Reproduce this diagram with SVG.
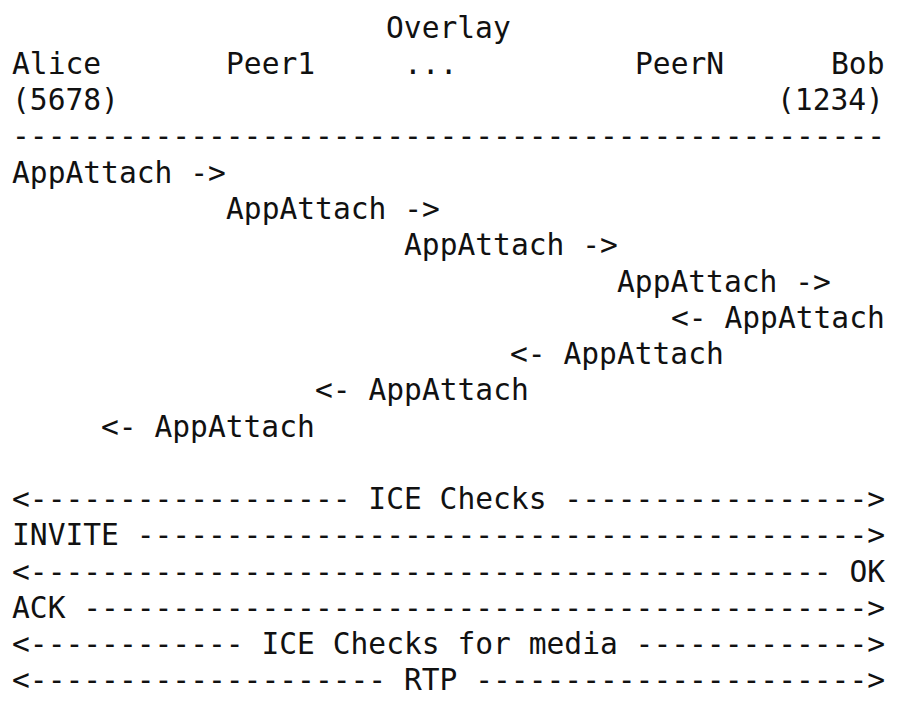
<svg xmlns="http://www.w3.org/2000/svg" width="897" height="712" viewBox="0 0 897 712">
<style>
text { font-family: "DejaVu Sans Mono", "Liberation Mono", monospace; font-size: 29.6px; fill: #111; white-space: pre; }
</style>
<rect width="897" height="712" fill="#ffffff"/>
<g id="overlay"><text x="386" y="38" xml:space="preserve">Overlay</text></g>
<g id="alice"><text x="12" y="74" xml:space="preserve">Alice</text><text x="12" y="110" xml:space="preserve">(5678)</text></g>
<g id="peer1"><text x="226" y="74" xml:space="preserve">Peer1</text></g>
<g id="dots"><text x="404" y="74" xml:space="preserve">...</text></g>
<g id="peerN"><text x="635" y="74" xml:space="preserve">PeerN</text></g>
<g id="bob"><text x="831" y="74" xml:space="preserve">Bob</text><text x="777" y="110" xml:space="preserve">(1234)</text></g>
<g id="separator"><text x="12" y="146" xml:space="preserve">-------------------------------------------------</text></g>
<g id="connectors">
<text x="12" y="183" xml:space="preserve">AppAttach -&gt;</text>
<text x="226" y="219" xml:space="preserve">AppAttach -&gt;</text>
<text x="404" y="255" xml:space="preserve">AppAttach -&gt;</text>
<text x="617" y="292" xml:space="preserve">AppAttach -&gt;</text>
<text x="671" y="328" xml:space="preserve">&lt;- AppAttach</text>
<text x="510" y="364" xml:space="preserve">&lt;- AppAttach</text>
<text x="315" y="400" xml:space="preserve">&lt;- AppAttach</text>
<text x="101" y="437" xml:space="preserve">&lt;- AppAttach</text>
<text x="12" y="509" xml:space="preserve">&lt;------------------ ICE Checks -----------------&gt;</text>
<text x="12" y="545" xml:space="preserve">INVITE -----------------------------------------&gt;</text>
<text x="12" y="582" xml:space="preserve">&lt;--------------------------------------------- OK</text>
<text x="12" y="618" xml:space="preserve">ACK --------------------------------------------&gt;</text>
<text x="12" y="654" xml:space="preserve">&lt;------------ ICE Checks for media -------------&gt;</text>
<text x="12" y="690" xml:space="preserve">&lt;-------------------- RTP ----------------------&gt;</text>
</g>
</svg>
